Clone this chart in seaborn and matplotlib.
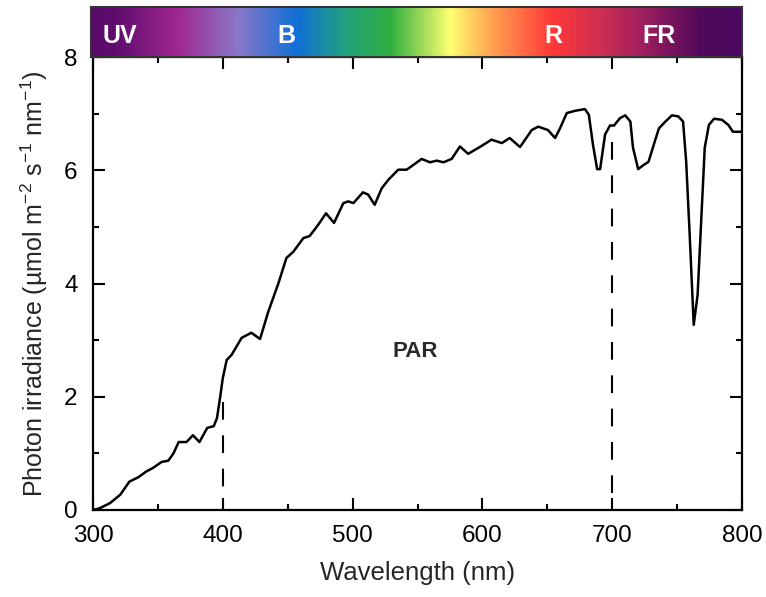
import numpy as np
import pandas as pd
import matplotlib
matplotlib.use('Agg')
import matplotlib.pyplot as plt
from matplotlib.colors import LinearSegmentedColormap
from matplotlib.ticker import MultipleLocator
import seaborn as sns

# --- data ---
wavelength = [300, 305, 313, 321, 328, 335, 341, 346, 353, 358, 362, 366, 372, 377, 382,
              388, 393, 395.5, 398, 400, 403, 406.8, 414.5, 422, 428.7, 435, 442.8, 449,
              454.3, 462, 467, 473.6, 479.5, 485.7, 492.9, 496.7, 500.6, 508, 512, 517,
              522.4, 527.5, 535.2, 541.7, 553.2, 559.6, 564.8, 570, 576.3, 582.7, 589,
              598, 607, 615, 621, 629, 638, 643, 650.5, 656, 659.8, 665, 671.4, 679, 682,
              685.2, 688.4, 690.7, 694.5, 698.3, 701.4, 706, 710, 714, 716, 720, 724, 728,
              732, 736, 741, 746, 751, 754.6, 757, 759.7, 762.8, 765.8, 768.3, 771.3,
              774.5, 778.5, 784.6, 789.5, 793, 798.5, 800]
irradiance = [0.0, 0.03, 0.12, 0.27, 0.50, 0.58, 0.68, 0.74, 0.85, 0.87, 1.00, 1.20, 1.20,
              1.32, 1.20, 1.45, 1.48, 1.62, 2.00, 2.33, 2.65, 2.74, 3.04, 3.13, 3.02, 3.50,
              4.00, 4.45, 4.56, 4.80, 4.84, 5.04, 5.24, 5.07, 5.42, 5.45, 5.42, 5.61, 5.57,
              5.39, 5.68, 5.83, 6.01, 6.01, 6.20, 6.14, 6.17, 6.14, 6.20, 6.42, 6.29,
              6.41, 6.54, 6.48, 6.57, 6.41, 6.71, 6.77, 6.71, 6.57, 6.74, 7.01, 7.05, 7.08,
              6.98, 6.45, 6.02, 6.02, 6.63, 6.79, 6.79, 6.92, 6.97, 6.86, 6.40, 6.02, 6.09,
              6.15, 6.45, 6.74, 6.86, 6.97, 6.95, 6.86, 6.15, 4.86, 3.27, 3.80, 4.98, 6.40,
              6.80, 6.91, 6.89, 6.80, 6.68, 6.68, 6.68]

# PAR boundaries and how high the dashed markers go
par_edges = [400, 700]
par_marker_tops = [1.9, 6.5]

# spectrum bar: colour stops (nm) and band labels
band_stops = [300, 317, 366, 412, 458, 494, 530, 576, 609, 655, 691, 724, 770, 800]
band_colors = ['#5a0a6a', '#600c6e', '#a02890', '#8a78c8', '#1070d8', '#20a080', '#30b040',
               '#ffff70', '#ffa050', '#ff3838', '#d03050', '#a02060', '#50085a', '#4a0860']
band_labels = ['UV', 'B', 'R', 'FR']
band_label_pos = [322, 450, 655, 736]

df = pd.DataFrame({'wavelength': wavelength, 'irradiance': irradiance})

sns.set_style('ticks')
plt.rcParams['font.family'] = ['Liberation Sans', 'DejaVu Sans']
plt.rcParams['mathtext.default'] = 'regular'

fig = plt.figure(figsize=(7.66, 5.97), dpi=100)
ax = fig.add_axes([93 / 766, 87 / 597, 649 / 766, 453 / 597])
bar_ax = fig.add_axes([91 / 766, 540 / 597, 651 / 766, 50 / 597])

sns.lineplot(data=df, x='wavelength', y='irradiance', ax=ax, color='black',
             linewidth=1.8, solid_joinstyle='round')

# dashed PAR markers, drawn from the top down so each starts with a dash
for x0, top in zip(par_edges, par_marker_tops):
    ax.plot([x0, x0], [top, 0], color='black', linewidth=1.5, dashes=(8.5, 7.5))

ax.text(548, 2.8, 'PAR', fontsize=16, fontweight='bold', color='#2a2a2a',
        ha='center', va='center')

ax.set_xlim(300, 800)
ax.set_ylim(0, 8)
ax.xaxis.set_major_locator(MultipleLocator(100))
ax.xaxis.set_minor_locator(MultipleLocator(50))
ax.yaxis.set_major_locator(MultipleLocator(2))
ax.yaxis.set_minor_locator(MultipleLocator(1))
ax.tick_params(which='both', direction='in', top=True, right=True, width=1.5, colors='black')
ax.tick_params(which='major', length=8.5, labelsize=17.5, pad=11)
ax.tick_params(which='minor', length=4.5)
for s in ax.spines.values():
    s.set_linewidth(1.6)
    s.set_color('black')
ax.set_xlabel('Wavelength (nm)', fontsize=18.5, labelpad=10)
ax.set_ylabel('Photon irradiance (µmol m$^{-2}$ s$^{-1}$ nm$^{-1}$)', fontsize=18, labelpad=10)

# spectrum colour bar
cmap = LinearSegmentedColormap.from_list(
    'spec', [((w - 300) / 500, c) for w, c in zip(band_stops, band_colors)])
grad = np.linspace(0, 1, 600).reshape(1, -1)
bar_ax.imshow(grad, aspect='auto', cmap=cmap, extent=[300, 800, 0, 1])
bar_ax.set_xlim(300, 800)
bar_ax.set_ylim(0, 1)
bar_ax.set_xticks([])
bar_ax.set_yticks([])
for s in bar_ax.spines.values():
    s.set_linewidth(1.5)
    s.set_color('#333333')
for lab, xp in zip(band_labels, band_label_pos):
    bar_ax.text(xp, 0.42, lab, color='white', fontsize=18, fontweight='bold',
                ha='center', va='center')

fig.savefig('out.png', dpi=100)
